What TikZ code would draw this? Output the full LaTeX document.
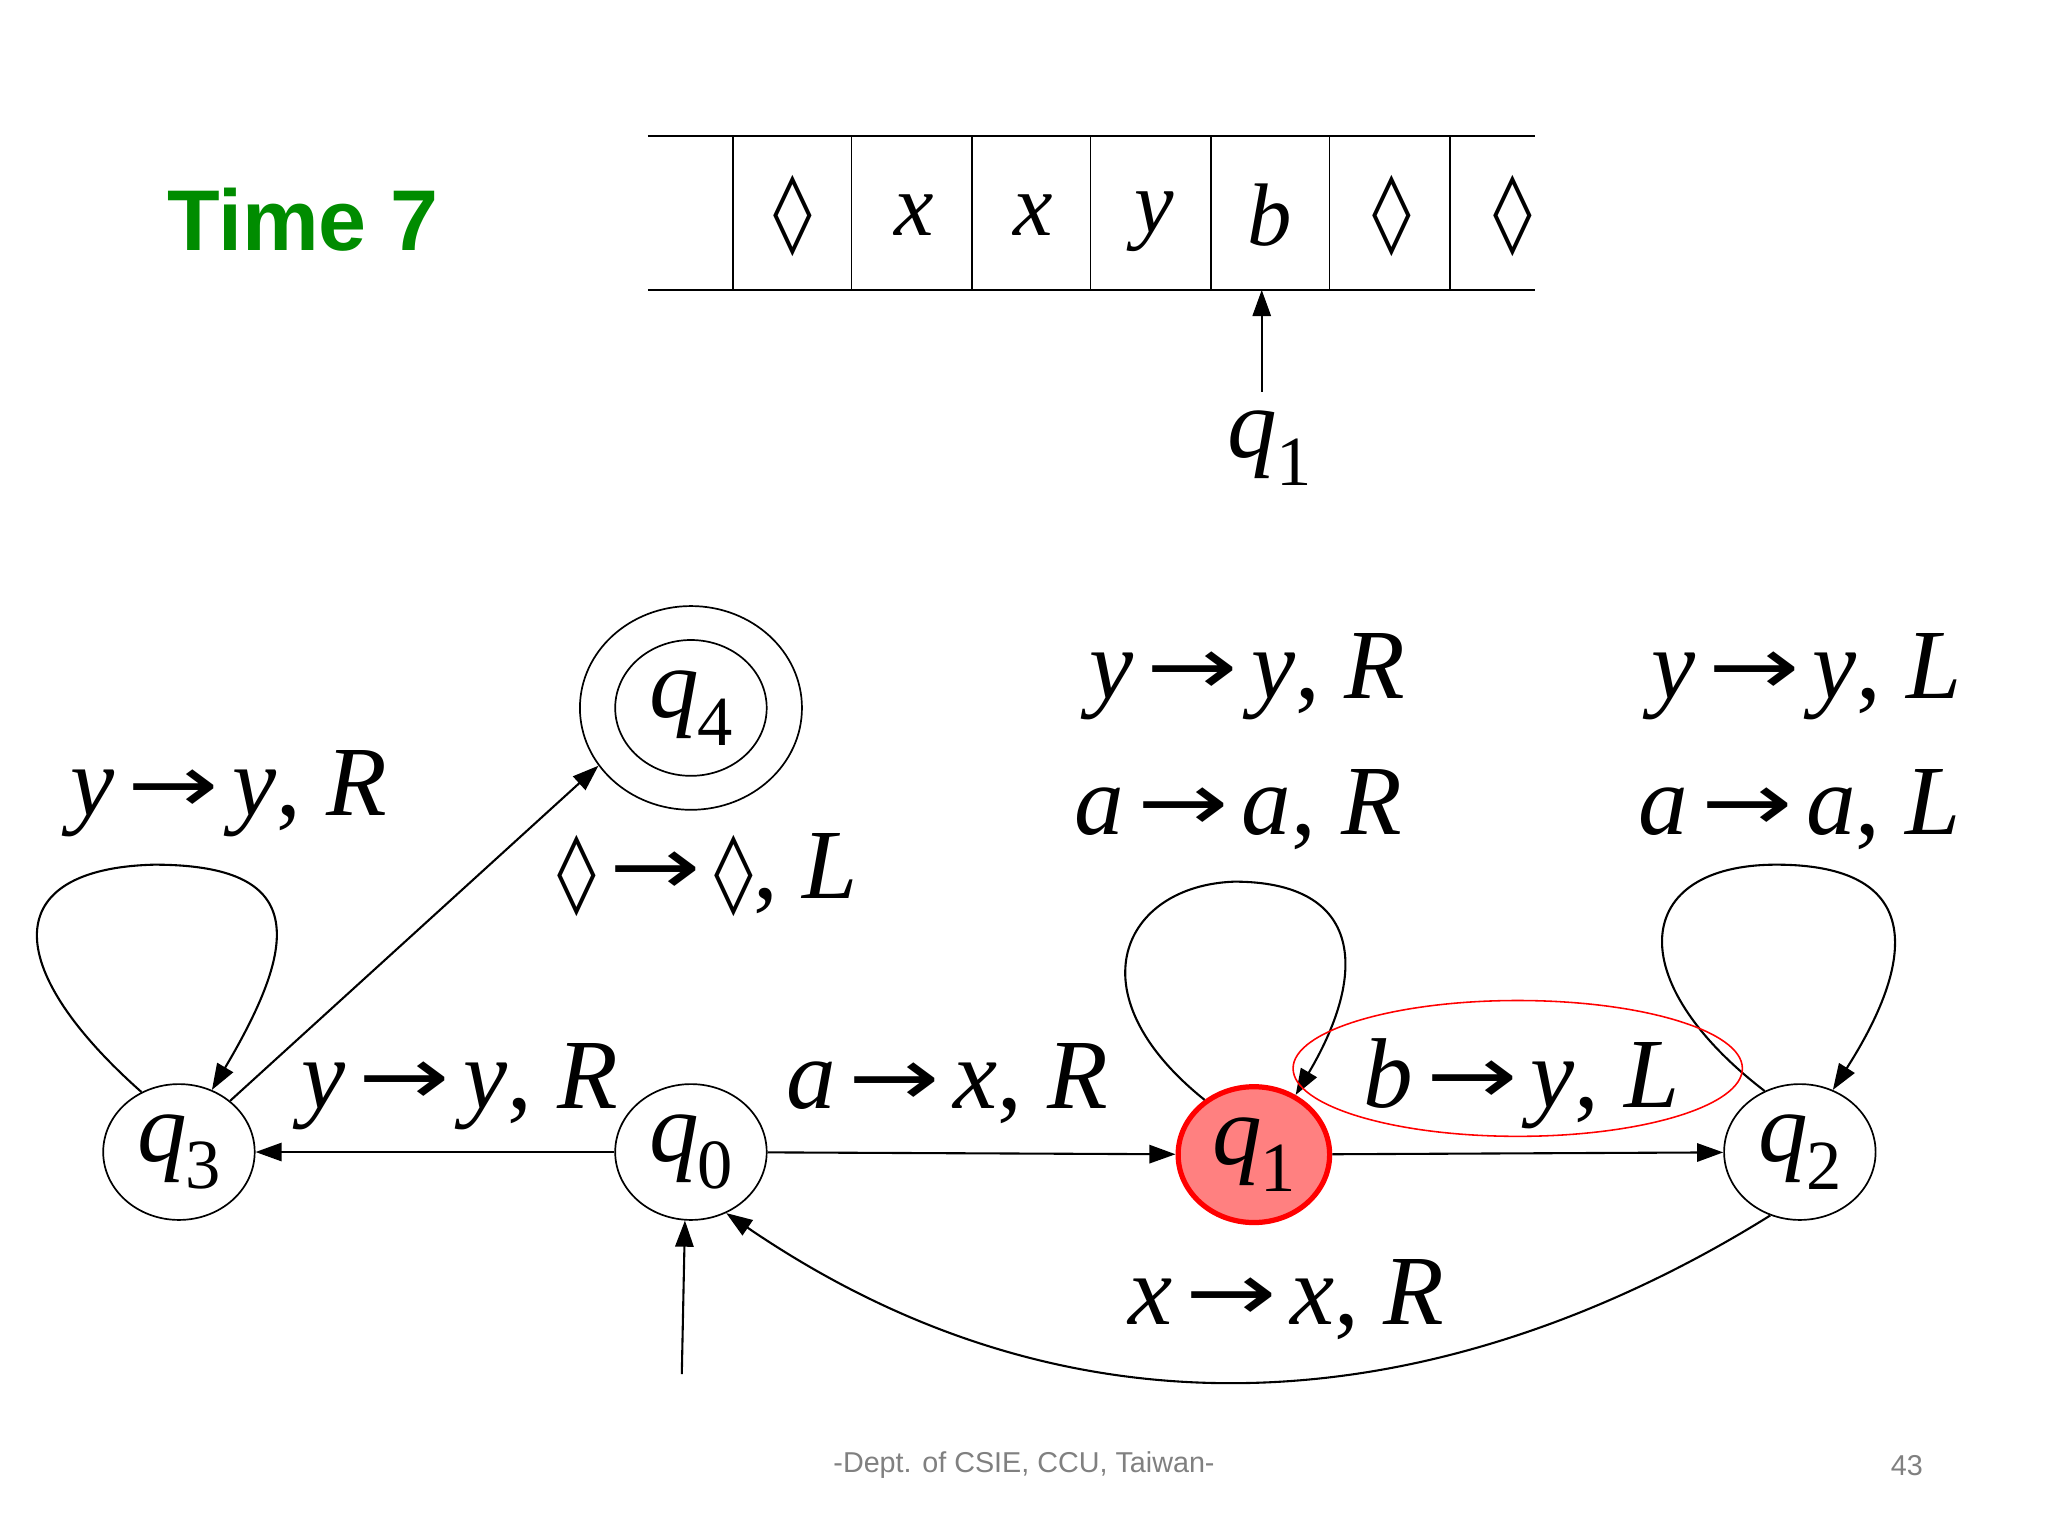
\documentclass[tikz,border=0pt]{standalone}
\usepackage{fontspec}
\setmainfont{Liberation Serif}
\newfontfamily\symf{DejaVu Sans}
\newfontfamily\sansf{Liberation Sans}
\usetikzlibrary{arrows.meta,shapes.geometric}
\newcommand{\Q}[1]{\textit{q}\kern-1pt\raisebox{-0.28em}{\fontsize{54}{54}\selectfont #1}}
\newcommand{\ar}{\kern10pt{\symf\fontsize{62}{62}\selectfont\raisebox{3pt}{\scalebox{1.35}[1]{→}}}\kern10pt}
\newcommand{\dm}{{\symf\fontsize{60}{60}\selectfont ◊}}
\begin{document}
\begin{tikzpicture}[x=1pt,y=-1pt,
  st/.style={draw,ellipse,line width=1.3pt,minimum width=116pt,minimum height=104pt,inner sep=0pt,font=\fontsize{76}{76}\selectfont},
  lab/.style={font=\fontsize{76}{76}\selectfont,inner sep=0pt},
  cell/.style={font=\fontsize{68}{68}\selectfont\itshape,inner sep=0pt},
  edge/.style={line width=1.6pt,-{Triangle[length=20pt,width=14pt]}}]
\useasboundingbox (0,0) rectangle (1568,1176);
\fill[white] (0,0) rectangle (1568,1176);
% title
\node[font=\fontsize{66}{66}\sansf\bfseries, text=green!55!black] (title) at (232,168) {Time 7};
% tape
\draw[line width=1.2pt] (496,104) -- (1175,104) (496,222) -- (1175,222);
\foreach \x in {561,652,744,835,927,1018,1110} \draw[line width=1.2pt] (\x,104) -- (\x,222);
\node[cell] (c1) at (607,165) {\dm};
\node[cell] (c2) at (700,165) {x};
\node[cell] (c3) at (791,165) {x};
\node[cell] (c4) at (884,170) {y};
\node[cell] (c5) at (972,165) {b};
\node[cell] (c6) at (1066,165) {\dm};
\node[cell] (c7) at (1158,165) {\dm};
\node[lab] (head) at (972,343) {\Q{1}};
\coordinate (hs) at (966,300);
\coordinate (he) at (966,222);
\draw[edge] (hs) -- (he);
% states
\node[st] (q3) at (137,882) {\Q{3}};
\node[st] (q0) at (529,882) {\Q{0}};
\node[st,fill=red!50,draw=red,line width=4pt] (q1) at (960,884) {\Q{1}};
\node[st] (q2) at (1378,882) {\Q{2}};
\node[st,minimum width=170pt,minimum height=156pt] (q4o) at (529,542) {};
\node[st] (q4) at (529,542) {\Q{4}};
% edges
\draw[edge] (q0) -- (q3);
\draw[edge] (q0) -- (q1);
\draw[edge] (q1) -- (q2);
\draw[edge] (q3.45) -- (q4o.212);
\draw[edge] (q2.245) .. controls (1180,1040) and (880,1150) .. (q0.300);
\coordinate (s0) at (522,1052);
\draw[edge] (s0) -- (q0.265);
% loops
\draw[edge] (q3.122) .. controls (0,740) and (0,665) .. (118,662) .. controls (235,662) and (230,720) .. (q3.62);
\draw[edge] (q1.132) .. controls (820,760) and (860,678) .. (945,675) .. controls (1040,675) and (1050,740) .. (q1.55);
\draw[edge] (q2.120) .. controls (1240,750) and (1250,662) .. (1360,662) .. controls (1470,662) and (1470,730) .. (q2.62);
% labels
\node[lab] (l33) at (175,608) {\textit{y}\ar\textit{y}, \textit{R}};
\node[lab] (l03) at (352,832) {\textit{y}\ar\textit{y}, \textit{R}};
\node[lab] (l34) at (542,670) {\dm\ar\dm, \textit{L}};
\node[lab] (l01) at (725,830) {\textit{a}\ar\textit{x}, \textit{R}};
\node[lab] (l11a) at (955,518) {\textit{y}\ar\textit{y}, \textit{R}};
\node[lab] (l11b) at (948,620) {\textit{a}\ar\textit{a}, \textit{R}};
\node[lab] (l12) at (1165,830) {\textit{b}\ar\textit{y}, \textit{L}};
\node[draw=red,line width=1.2pt,ellipse,minimum width=344pt,minimum height=104pt] (hl) at (1162,818) {};
\node[lab] (l22a) at (1383,518) {\textit{y}\ar\textit{y}, \textit{L}};
\node[lab] (l22b) at (1378,620) {\textit{a}\ar\textit{a}, \textit{L}};
\node[lab] (l20) at (985,995) {\textit{x}\ar\textit{x}, \textit{R}};
% footer
\node[font=\fontsize{22}{22}\sansf,text=gray] (ft) at (784,1122) {-Dept. of CSIE, CCU, Taiwan-};
\node[font=\fontsize{22}{22}\sansf,text=gray] (pg) at (1460,1122) {43};
\end{tikzpicture}
\end{document}
